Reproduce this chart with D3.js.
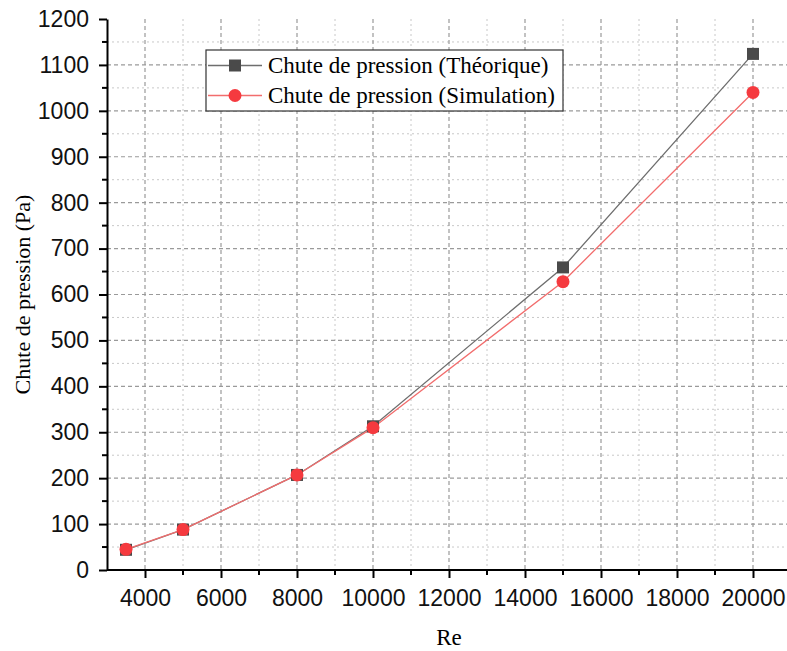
<!DOCTYPE html>
<html>
<head>
<meta charset="utf-8">
<script src="https://cdn.jsdelivr.net/npm/d3@7"></script>
<style>
  body { margin: 0; background: #fff; }
  .axis .tick text { font-family: "Liberation Sans", Arial, sans-serif; font-size: 23px; fill: #111; }
  .axis path, .axis line { stroke: #000; stroke-width: 2; }
</style>
</head>
<body>
<svg id="mainsvg"></svg>
<script>
// data
let reValues = [3500, 5000, 8000, 10000, 15000, 20000];
let theorique = [44, 88, 207, 313, 659, 1124];
let simulation = [45, 88, 207, 310, 628, 1040];
let seriesNames = ["Chute de pression (Théorique)", "Chute de pression (Simulation)"];
let xTicks = [4000, 6000, 8000, 10000, 12000, 14000, 16000, 18000, 20000];
let yTicks = [0, 100, 200, 300, 400, 500, 600, 700, 800, 900, 1000, 1100, 1200];

let svgWidth = 787, svgHeight = 651,
    margin = {top: 19, right: 0, bottom: 81, left: 107},
    width = svgWidth - margin.left - margin.right,
    height = svgHeight - margin.top - margin.bottom;

let mainsvg = d3.select("#mainsvg").attr("width", svgWidth).attr("height", svgHeight);
let g = mainsvg.append("g").attr("transform", `translate(${margin.left},${margin.top})`);

let scaleX = d3.scaleLinear().domain([3000, 21000]).range([0, 684]);
let scaleY = d3.scaleLinear().domain([0, 1200]).range([height, 0]);

// minor grid (dotted)
let minorX = d3.range(5000, 21000, 2000);
let minorY = d3.range(50, 1200, 100);
g.append("g").selectAll("line").data(minorX).enter().append("line")
    .attr("x1", d => scaleX(d)).attr("x2", d => scaleX(d))
    .attr("y1", 0).attr("y2", height)
    .attr("stroke", "#c8c8c8").attr("stroke-width", 1).attr("stroke-dasharray", "2,3");
g.append("g").selectAll("line").data(minorY).enter().append("line")
    .attr("x1", 0).attr("x2", width)
    .attr("y1", d => scaleY(d)).attr("y2", d => scaleY(d))
    .attr("stroke", "#c8c8c8").attr("stroke-width", 1).attr("stroke-dasharray", "2,3");
// major grid (dashed)
g.append("g").selectAll("line").data(xTicks).enter().append("line")
    .attr("x1", d => scaleX(d)).attr("x2", d => scaleX(d))
    .attr("y1", 0).attr("y2", height)
    .attr("stroke", "#9a9a9a").attr("stroke-width", 1.2).attr("stroke-dasharray", "4,3");
g.append("g").selectAll("line").data(yTicks.filter(d => d > 0 && d < 1200)).enter().append("line")
    .attr("x1", 0).attr("x2", width)
    .attr("y1", d => scaleY(d)).attr("y2", d => scaleY(d))
    .attr("stroke", "#9a9a9a").attr("stroke-width", 1.2).attr("stroke-dasharray", "4,3");

// axes
let xAxis = g.append("g").attr("class", "axis")
    .attr("transform", `translate(0,${height})`)
    .call(d3.axisBottom(scaleX).tickValues(xTicks).tickFormat(d3.format("d")).tickSize(8).tickSizeOuter(0).tickPadding(12));
xAxis.select(".domain").attr("d", `M0,0H${width}`);
xAxis.append("g").selectAll("line").data(d3.range(5000, 21000, 2000)).enter().append("line")
    .attr("x1", d => scaleX(d)).attr("x2", d => scaleX(d)).attr("y1", 0).attr("y2", 5)
    .attr("stroke", "#000").attr("stroke-width", 2);

let yAxis = g.append("g").attr("class", "axis")
    .call(d3.axisLeft(scaleY).tickValues(yTicks).tickFormat(d3.format("d")).tickSize(8).tickSizeOuter(0).tickPadding(10));
yAxis.append("g").selectAll("line").data(minorY).enter().append("line")
    .attr("x1", 0).attr("x2", -5).attr("y1", d => scaleY(d)).attr("y2", d => scaleY(d))
    .attr("stroke", "#000").attr("stroke-width", 2);

// axis titles
mainsvg.append("text").attr("x", 449).attr("y", 645)
    .attr("text-anchor", "middle")
    .attr("font-family", "'Liberation Serif', 'Times New Roman', serif").attr("font-size", 23)
    .text("Re");
mainsvg.append("text").attr("transform", `translate(30,${margin.top + height / 2}) rotate(-90)`)
    .attr("text-anchor", "middle")
    .attr("font-family", "'Liberation Serif', 'Times New Roman', serif").attr("font-size", 22)
    .text("Chute de pression (Pa)");

// series
let theoData = reValues.map((d, i) => ({x: d, y: theorique[i]}));
let simData = reValues.map((d, i) => ({x: d, y: simulation[i]}));
let line = d3.line().x(d => scaleX(d.x)).y(d => scaleY(d.y));

g.append("path").datum(theoData).attr("d", line)
    .attr("fill", "none").attr("stroke", "#6e6e6e").attr("stroke-width", 1.3);
g.append("path").datum(simData).attr("d", line)
    .attr("fill", "none").attr("stroke", "#f26d6d").attr("stroke-width", 1.3);

g.append("g").selectAll("rect").data(theoData).enter().append("rect")
    .attr("x", d => scaleX(d.x) - 6).attr("y", d => scaleY(d.y) - 6)
    .attr("width", 12).attr("height", 12).attr("fill", "#4a4a4a");
g.append("g").selectAll("circle").data(simData).enter().append("circle")
    .attr("cx", d => scaleX(d.x)).attr("cy", d => scaleY(d.y)).attr("r", 6.5)
    .attr("fill", "#f53a3f");

// legend
let legend = mainsvg.append("g");
legend.append("rect").attr("x", 206).attr("y", 50).attr("width", 357).attr("height", 61)
    .attr("fill", "#fff").attr("stroke", "#333").attr("stroke-width", 1.2);
let legendColors = [{line: "#6e6e6e", mark: "#4a4a4a"}, {line: "#f26d6d", mark: "#f53a3f"}];
seriesNames.forEach((name, i) => {
    let y = 65.5 + i * 30;
    legend.append("line").attr("x1", 208).attr("x2", 262).attr("y1", y).attr("y2", y)
        .attr("stroke", legendColors[i].line).attr("stroke-width", 1.3);
    if (i === 0) {
        legend.append("rect").attr("x", 229).attr("y", y - 6).attr("width", 12).attr("height", 12)
            .attr("fill", legendColors[i].mark);
    } else {
        legend.append("circle").attr("cx", 235).attr("cy", y).attr("r", 6.5).attr("fill", legendColors[i].mark);
    }
    legend.append("text").attr("x", 268).attr("y", y + 7.5)
        .attr("font-family", "'Liberation Serif', 'Times New Roman', serif").attr("font-size", 23)
        .text(name);
});
</script>
</body>
</html>
